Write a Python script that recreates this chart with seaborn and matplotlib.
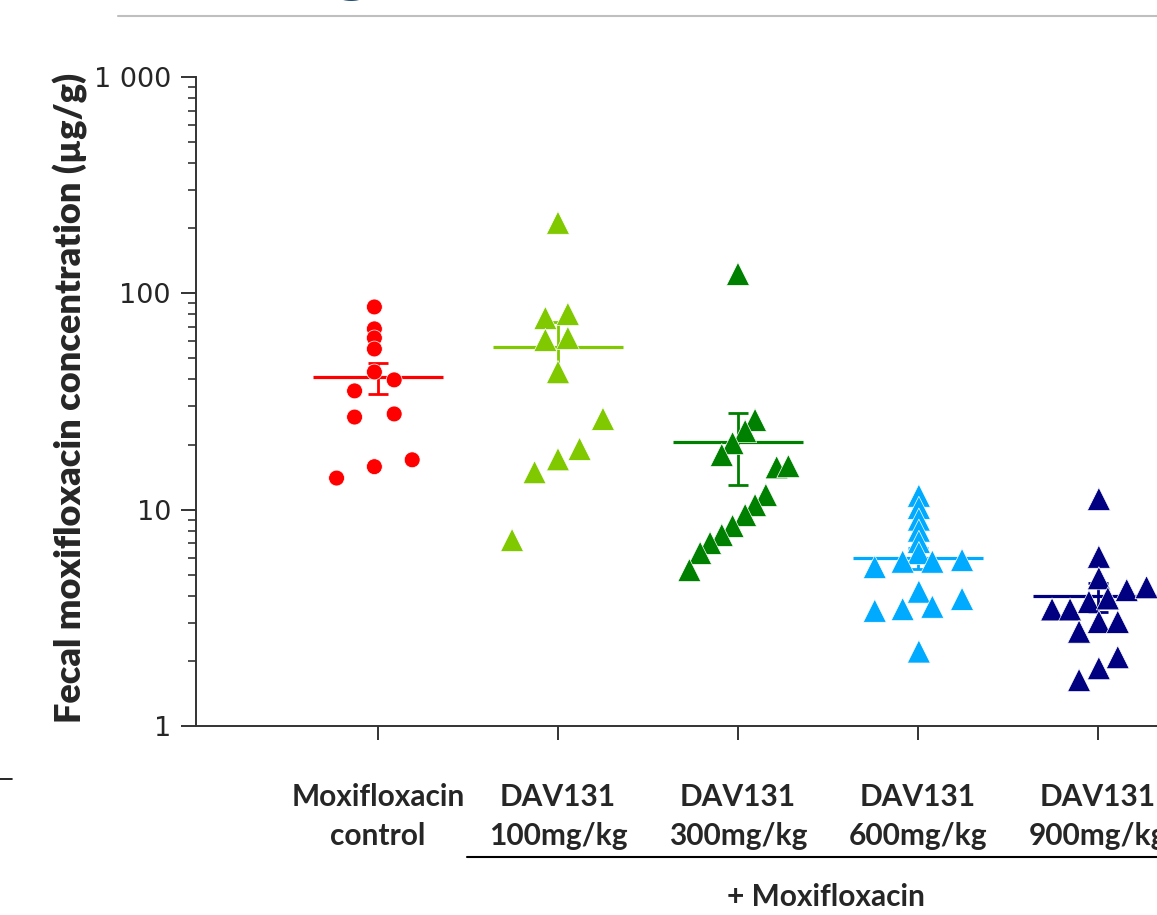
import numpy as np
import pandas as pd
import matplotlib
matplotlib.use("Agg")
import matplotlib.pyplot as plt
import seaborn as sns
from matplotlib.lines import Line2D
from matplotlib.ticker import FixedLocator, LogLocator, NullFormatter

# groups shown on the x axis
groups = ["Moxifloxacin\ncontrol", "DAV131\n100mg/kg", "DAV131\n300mg/kg",
          "DAV131\n600mg/kg", "DAV131\n900mg/kg"]

# fecal moxifloxacin concentration (µg/g), one value per animal
control = [86.5, 68.5, 62.2, 55.3, 43.3, 39.8, 35.4, 26.8, 27.7, 17.0, 15.8, 14.0]
dav100 = [212, 76.9, 80.3, 60.9, 62.2, 43.3, 26.3, 19.1, 17.1, 14.9, 7.24]
dav300 = [123, 26.0, 23.1, 20.3, 17.9, 15.7, 15.9, 11.7, 10.5, 9.45, 8.41, 7.64,
          7.02, 6.31, 5.26]
dav600 = [11.6, 10.2, 9.0, 8.0, 7.1, 6.3, 5.75, 5.75, 5.43, 5.85, 4.18, 3.87,
          3.41, 3.47, 3.56, 2.21]
dav900 = [11.2, 6.06, 4.82, 4.25, 4.38, 3.46, 3.46, 3.75, 3.89, 3.03, 3.03, 2.73,
          2.08, 1.85, 1.63]

# horizontal scatter of the points inside each group (fraction of a category)
jit_control = [-0.02, -0.02, -0.02, -0.02, -0.02, 0.09, -0.13, -0.13, 0.09, 0.19, -0.02, -0.23]
jit_100 = [0, -0.07, 0.055, -0.07, 0.055, 0, 0.25, 0.12, 0, -0.13, -0.255]
jit_300 = [0, 0.095, 0.04, -0.03, -0.09, 0.215, 0.28, 0.155, 0.095, 0.04, -0.03,
           -0.09, -0.155, -0.21, -0.27]
jit_600 = [0.005, 0.005, 0.005, 0.005, 0.005, 0.005, -0.085, 0.08, -0.24, 0.245,
           0.005, 0.245, -0.24, -0.085, 0.08, 0.005]
jit_900 = [0.005, 0.005, 0.005, 0.16, 0.27, -0.255, -0.155, -0.05, 0.055, 0.005,
           0.11, -0.105, 0.11, 0.005, -0.105]

colors = ["#FF0000", "#80C800", "#008000", "#00AAFF", "#000080"]
markers = ["o", "^", "^", "^", "^"]
sizes = [130, 275, 275, 275, 275]

values = [control, dav100, dav300, dav600, dav900]
jitters = [jit_control, jit_100, jit_300, jit_600, jit_900]

rows = []
for i, (g, vals, jit) in enumerate(zip(groups, values, jitters)):
    for v, j in zip(vals, jit):
        rows.append({"group": g, "pos": i + j, "value": v})
df = pd.DataFrame(rows)

stats = df.groupby("group", sort=False)["value"].agg(["mean", "sem"])

sns.set_style("ticks")
label_font = ["Lato", "DejaVu Sans"]

fig = plt.figure(figsize=(11.57, 9.15), dpi=100)
ax = fig.add_axes([196 / 1157, 189 / 915, (1157 - 196) / 1157, 649 / 915])

# mean line and SEM
for i, g in enumerate(groups):
    m, se = stats.loc[g, "mean"], stats.loc[g, "sem"]
    ax.hlines(m, i - 0.36, i + 0.36, color=colors[i], lw=2.3, zorder=2)
    ax.errorbar(i, m, yerr=se, color=colors[i], capsize=7.5, elinewidth=2,
                capthick=2, zorder=2)

sns.scatterplot(data=df, x="pos", y="value", hue="group", style="group", size="group",
                palette=dict(zip(groups, colors)), markers=dict(zip(groups, markers)),
                sizes=dict(zip(groups, sizes)), edgecolor="white", linewidth=0.5,
                legend=False, ax=ax, zorder=3)

ax.set_yscale("log")
ax.set_ylim(1, 1000)
ax.set_xlim(-1.011, 4.328)

ax.yaxis.set_major_locator(FixedLocator([1, 10, 100, 1000]))
ax.set_yticklabels(["1", "10", "100", "1 000"])
ax.yaxis.set_minor_locator(LogLocator(base=10, subs=np.arange(2, 10)))
ax.yaxis.set_minor_formatter(NullFormatter())

ax.set_xticks(range(len(groups)))
ax.set_xticklabels(groups, family=label_font, fontweight="bold", fontsize=21.5,
                   linespacing=1.5)

ax.tick_params(axis="y", which="major", length=11, width=1.4, color="#333333",
               labelsize=19.5, pad=7)
ax.tick_params(axis="y", which="minor", length=6, width=1.2, color="#333333")
ax.tick_params(axis="x", which="major", length=10, width=1.4, color="#333333", pad=31)

for s in ["top", "right"]:
    ax.spines[s].set_visible(False)
for s in ["left", "bottom"]:
    ax.spines[s].set_linewidth(1.4)
    ax.spines[s].set_color("#333333")

ax.set_xlabel("")
ax.set_ylabel("Fecal moxifloxacin concentration (µg/g)", family=label_font,
              fontweight="heavy", fontsize=26)
ax.yaxis.set_label_coords(-0.112, 0.506)

# bracket for the DAV131 + moxifloxacin groups
xt = ax.get_xaxis_transform()
ax.plot([0.494, 4.483], [-0.202, -0.202], transform=xt, color="black", lw=1.5,
        clip_on=False)
ax.text(2.489, -0.263, "+ Moxifloxacin", transform=xt, ha="center", va="center",
        family=label_font, fontweight="bold", fontsize=21.5, clip_on=False)

# slide remnants: header rule and cut-off title
fig.add_artist(Line2D([118 / 1157, 1], [1 - 16 / 915] * 2, color="#BFBFBF", lw=1.5))
fig.text(333 / 1157, 1 + 11 / 915, "g", color="#1F4E79", fontsize=40, fontweight="bold",
         va="baseline")
fig.add_artist(Line2D([0, 12 / 1157], [1 - 779 / 915] * 2, color="black", lw=1.2))

fig.savefig("out.png", dpi=100)
